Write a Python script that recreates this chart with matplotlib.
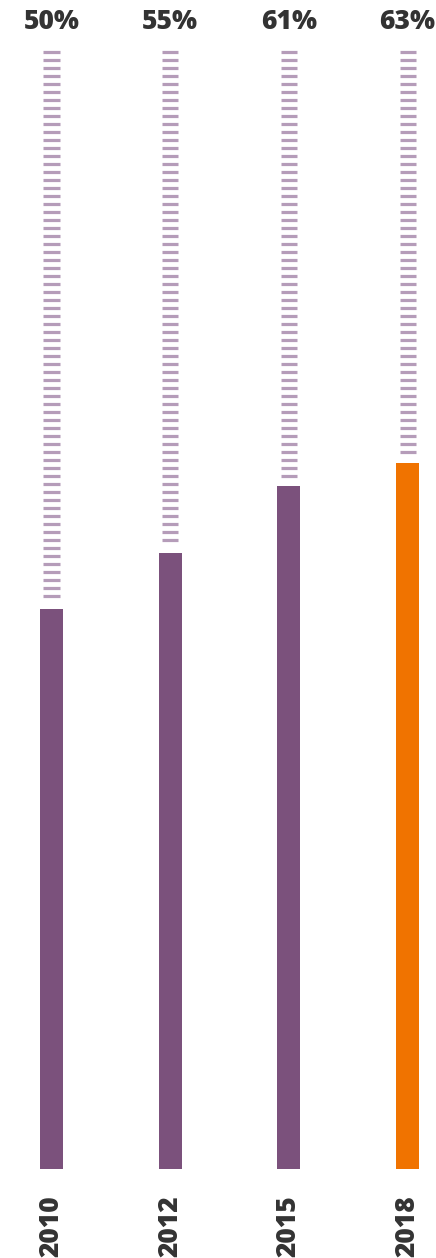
import numpy as np
import matplotlib

matplotlib.use("Agg")
import matplotlib.pyplot as plt

years = ["2010", "2012", "2015", "2018"]
shares = [50, 55, 61, 63]
labels = ["50%", "55%", "61%", "63%"]
bar_colors = ["#7B517C", "#7B517C", "#7B517C", "#F07300"]

DASH_COLOR = "#B59CB9"
TEXT_COLOR = "#333333"

W, H = 436, 1258
fig = plt.figure(figsize=(W / 100, H / 100), dpi=100)
# axes spans the full width, y=0 at pixel 1169 and y=100 at pixel 49
ax = fig.add_axes([0, (H - 1169) / H, 1, 1120 / H])
ax.set_xlim(-51.5 / 118.7, (W - 51.5) / 118.7)
ax.set_ylim(0, 100)
ax.axis("off")

x = np.arange(len(years))
ax.bar(x, shares, width=0.194, color=bar_colors, zorder=2)

# dashed "remaining" column above each bar
step = 8 / 11.2
for xi, v in zip(x, shares):
    ys = np.arange(99.7, v + step * 0.6, -step)
    ax.hlines(ys, xi - 0.0675, xi + 0.0675, color=DASH_COLOR, linewidth=2.3, zorder=1)

font = dict(family=["Open Sans", "DejaVu Sans"], weight="heavy", color=TEXT_COLOR, fontsize=19)
for xi, lab, yr in zip(x, labels, years):
    ax.text(xi, 102.4, lab, ha="center", va="center", clip_on=False, **font)
    ax.text(xi, -5.1, yr, ha="center", va="center", rotation=90, clip_on=False, **font)

fig.savefig("out.png", dpi=100)
plt.close(fig)
